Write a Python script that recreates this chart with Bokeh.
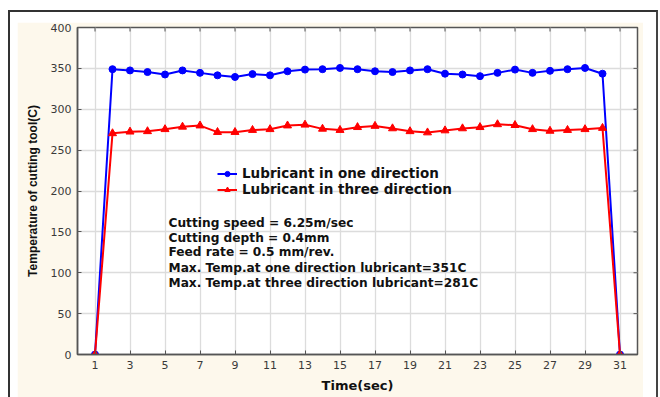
from bokeh.plotting import figure
from bokeh.layouts import column
from bokeh.models import Range1d, FixedTicker, Legend, LegendItem, Label
from bokeh.embed import file_html
from bokeh.resources import INLINE

# ---- data ----
time_sec = list(range(1, 32))
one_direction = [0, 349, 347.5, 345.5, 342.5, 347.5, 344.5, 341.5, 339.5, 343, 341.5,
                 346.5, 348.5, 349, 350.5, 349, 346.5, 345.5, 347.5, 349, 343.5,
                 342.5, 340.5, 344.5, 348.5, 344.5, 347, 349, 350.5, 343.5, 0]
three_direction = [0, 270.5, 272.5, 273, 275.5, 278.5, 280, 272, 272, 274.5, 275.5,
                   280, 281, 276, 274.5, 278, 279.5, 276.5, 273, 271.5, 274,
                   276.5, 278, 281.5, 280.5, 275.5, 273.5, 274.5, 275.5, 277, 0]
x_ticks = list(range(1, 32, 2))
y_ticks = list(range(0, 401, 50))
series_names = ["Lubricant in one direction", "Lubricant in three direction"]
notes = ["Cutting speed = 6.25m/sec",
         "Cutting depth = 0.4mm",
         "Feed rate = 0.5 mm/rev.",
         "Max. Temp.at one direction lubricant=351C",
         "Max. Temp.at three direction lubricant=281C"]

X0, X1, Y0, Y1 = 0, 32, 0, 400
FONT = "Liberation Sans"
WIDE = "DejaVu Sans"
CREAM = "#fdf8ec"
FRAME = "#555555"
GRID = "#dcdcdc"

FL, FR, FT, FB = 60, 6, 5, 43   # frame borders in px (inside the cream panel)
W, H = 626, 375

p = figure(width=W, height=H, output_backend="svg", toolbar_location=None,
           x_range=Range1d(X0, X1), y_range=Range1d(Y0, Y1),
           min_border_left=FL, min_border_right=FR, min_border_top=FT, min_border_bottom=FB,
           border_fill_color=CREAM, background_fill_color="white",
           outline_line_color=FRAME, outline_line_width=1.5)

# axes
for ax in [p.xaxis[0], p.yaxis[0]]:
    ax.major_label_text_font = WIDE
    ax.major_label_text_font_size = "11px"
    ax.major_label_text_color = "#3a3a3a"
    ax.axis_label_text_font = FONT
    ax.axis_label_text_font_style = "bold"
    ax.axis_label_text_color = "#111111"
    ax.major_tick_in = 4
    ax.major_tick_out = 0
    ax.minor_tick_line_color = None
    ax.axis_line_color = FRAME
    ax.axis_line_width = 1.5
    ax.major_tick_line_color = FRAME
    ax.major_label_standoff = 6

p.xaxis[0].ticker = FixedTicker(ticks=x_ticks)
p.yaxis[0].ticker = FixedTicker(ticks=y_ticks)
p.xaxis[0].axis_label = "Time(sec)"
p.xaxis[0].axis_label_text_font = WIDE
p.xaxis[0].axis_label_text_font_size = "13px"
p.xaxis[0].axis_label_standoff = 6
p.yaxis[0].axis_label = "Temperature of cutting tool(C)"
p.yaxis[0].axis_label_text_font_size = "12px"
p.yaxis[0].axis_label_standoff = 8

# inner ticks on top and right edges of the frame
tick_px = 4
px_per_y = (H - FT - FB) / (Y1 - Y0)
px_per_x = (W - FL - FR) / (X1 - X0)
p.segment(x0=x_ticks, y0=[Y1] * len(x_ticks), x1=x_ticks,
          y1=[Y1 - tick_px / px_per_y] * len(x_ticks), line_color=FRAME, line_width=1)
p.segment(x0=[X1] * len(y_ticks), y0=y_ticks, x1=[X1 - tick_px / px_per_x] * len(y_ticks),
          y1=y_ticks, line_color=FRAME, line_width=1)

p.xgrid.ticker = FixedTicker(ticks=x_ticks)
p.ygrid.ticker = FixedTicker(ticks=y_ticks)
p.grid.grid_line_color = GRID
p.grid.grid_line_width = 1.3

# series
bl = p.line(time_sec, one_direction, line_color="#0000ff", line_width=2)
bs = p.scatter(time_sec, one_direction, marker="circle", size=7,
               fill_color="#0000ff", line_color="#0000ff")
rl = p.line(time_sec, three_direction, line_color="#ff0000", line_width=2)
rs = p.scatter(time_sec, three_direction, marker="triangle", size=8,
               fill_color="#ff0000", line_color="#ff0000")

legend = Legend(items=[LegendItem(label=series_names[0], renderers=[bl, bs]),
                       LegendItem(label=series_names[1], renderers=[rl, rs])],
                location=(140, 157), padding=0, margin=0, spacing=-2,
                glyph_width=20, glyph_height=13, label_height=13, label_standoff=5,
                label_text_font=WIDE, label_text_font_size="13.5px",
                label_text_font_style="bold", label_text_color="#111111",
                background_fill_alpha=0, border_line_alpha=0)
p.add_layout(legend)

# notes
note_y = [160.6, 142.3, 125.1, 106.0, 87.7]
for txt, yy in zip(notes, note_y):
    p.add_layout(Label(x=5.2, y=yy, text=txt, text_font=WIDE, text_font_size="12.2px",
                       text_font_style="bold", text_color="#111111",
                       text_baseline="middle", text_align="left"))

# page frame: white mat with dark lines on left, top and right
outer = column(p, margin=(10, 2, 0, 8),
               styles={"border-left": "2px solid #333333",
                       "border-top": "2px solid #333333",
                       "border-right": "2px solid #444444",
                       "padding": "10px 13px 0px 7px",
                       "background-color": "white"})

open("out.html", "w").write(file_html(outer, INLINE))
